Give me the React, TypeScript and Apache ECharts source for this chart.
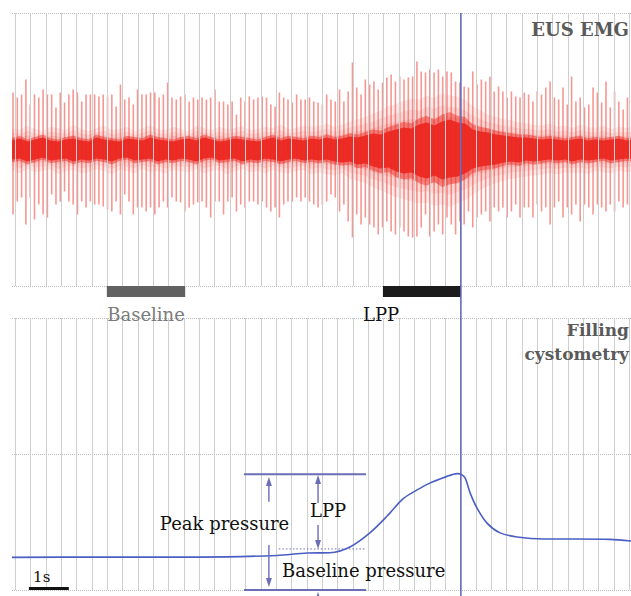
import React, { useEffect, useRef } from "react";
import * as echarts from "echarts";

// ---- time axis (seconds) ----
const TIME_MIN = -0.08;
const TIME_MAX = 16.04;
const GRID_STEP = 0.4;
const GRID_COUNT = 41;

// ---- EUS EMG: spike train (sampled every EMG_DT s), tops / bottoms in µV ----
const EMG_T0 = -0.054;
const EMG_DT = 0.1119;
const emgTops = [
  57, 52, 55, 70, 45, 55, 52, 60, 55, 55, 42, 57, 47, 55, 60, 57, 48, 55, 55, 55, 53, 55, 53, 55,
  43, 65, 50, 52, 45, 60, 55, 55, 57, 57, 52, 55, 67, 52, 50, 53, 55, 48, 52, 50, 52,
  50, 52, 60, 48, 48, 45, 48, 35, 52, 48, 53, 50, 52, 53, 52, 45, 43, 57, 52, 50, 47, 55, 50, 50, 52,
  48, 47, 45, 55, 50, 48, 60, 48, 58, 87, 62, 55, 70, 65, 68, 60, 67, 72, 75, 68, 73, 70, 72, 73, 88,
  78, 77, 80, 77, 80, 73, 78, 77, 68, 67, 63, 62, 78, 65, 70, 68, 73, 58, 63, 58, 52, 58, 53, 52, 57,
  55, 48, 58, 55, 62, 68, 52, 50, 62, 45, 73, 48, 52, 42, 45, 62, 57, 47, 68, 42, 58, 48, 40, 52,
];
const emgBottoms = [
  -65, -52, -48, -75, -48, -70, -55, -65, -68, -45, -55, -52, -42, -52, -55, -65, -52, -58, -52, -55, -55, -57, -60, -62,
  -52, -65, -45, -52, -65, -58, -58, -62, -58, -65, -58, -52, -58, -48, -52, -53, -62, -58, -55, -53, -52,
  -58, -68, -52, -52, -65, -52, -48, -62, -55, -58, -52, -52, -55, -52, -58, -62, -58, -68, -55, -52, -52, -48, -52, -48, -52,
  -55, -58, -55, -52, -45, -48, -62, -55, -72, -88, -65, -75, -68, -75, -78, -85, -78, -72, -82, -85, -78, -82, -87, -88, -87,
  -78, -65, -87, -82, -75, -85, -68, -75, -85, -72, -75, -62, -78, -68, -65, -62, -72, -58, -62, -58, -68, -62, -55, -68, -58,
  -58, -68, -55, -62, -58, -75, -58, -52, -68, -58, -65, -55, -72, -55, -58, -65, -55, -58, -62, -55, -62, -52, -58, -55,
];

// ---- EUS EMG: envelopes of the dense core and of the haze (µV above / below 0, every 0.2 s) ----
const ENV_T0 = -0.08;
const ENV_DT = 0.2;
const coreUpper = [
  9, 11, 8, 10, 12, 9, 8, 10, 11, 9, 8, 12, 10, 9, 8, 11, 10, 9, 12, 10,
  9, 8, 10, 11, 9, 12, 10, 8, 9, 11, 10, 9, 8, 10, 12, 9, 11, 10, 9, 11,
  10, 12, 10, 11, 13, 12, 14, 16, 15, 18, 20, 22, 21, 25, 27, 24, 28, 30, 27, 26,
  20, 18, 17, 15, 14, 13, 12, 12, 11, 10, 11, 10, 9, 10, 11, 9, 10, 9, 10, 11, 9, 10,
];
const coreLower = [
  10, 9, 12, 10, 8, 11, 10, 9, 12, 10, 11, 9, 10, 12, 9, 8, 11, 10, 9, 12,
  10, 11, 9, 10, 12, 9, 8, 11, 10, 9, 12, 10, 11, 9, 10, 12, 10, 9, 11, 10,
  11, 10, 12, 13, 12, 15, 14, 17, 19, 18, 22, 24, 23, 27, 29, 26, 30, 28, 27, 24,
  19, 17, 16, 15, 13, 12, 13, 11, 12, 11, 10, 11, 10, 12, 10, 11, 10, 9, 11, 10, 9, 10,
];
const hazeUpper = [
  20, 18, 22, 19, 17, 21, 20, 18, 23, 19, 17, 20, 22, 18, 19, 21, 17, 20, 22, 19,
  18, 21, 19, 17, 22, 20, 18, 21, 19, 20, 22, 18, 19, 21, 20, 23, 19, 20, 22, 21,
  22, 24, 21, 23, 26, 28, 30, 33, 36, 40, 42, 45, 47, 46, 50, 48, 52, 50, 49, 46,
  40, 36, 32, 30, 28, 27, 25, 24, 23, 22, 24, 21, 22, 20, 23, 21, 20, 22, 19, 21, 20, 21,
];
const hazeLower = [
  19, 22, 18, 21, 20, 18, 23, 20, 19, 22, 21, 18, 20, 23, 19, 20, 22, 18, 21, 20,
  22, 19, 20, 21, 18, 22, 20, 19, 23, 20, 18, 21, 20, 22, 19, 21, 22, 20, 19, 23,
  21, 23, 24, 22, 27, 29, 31, 35, 38, 41, 44, 46, 48, 50, 49, 52, 51, 53, 50, 47,
  42, 37, 34, 31, 29, 27, 26, 25, 24, 23, 22, 23, 21, 22, 21, 23, 20, 21, 22, 20, 21, 20,
];

// ---- Filling cystometry (pressure) ----
const pressureTimes = [
  -0.08, 2.21, 4.82, 6.82, 7.6, 8.2, 8.72, 9.24, 9.69, 10.1, 10.47, 10.8, 11.2, 11.51, 11.61, 11.72,
  11.85, 12.03, 12.29, 12.63, 13.07, 13.75, 14.63, 15.49, 16.04,
];
const pressureValues = [
  12.0, 12.1, 12.1, 12.7, 13.6, 13.7, 15.8, 21.0, 27.2, 33.5, 36.8, 39.3, 41.5, 42.8, 42.6, 41.2,
  35.7, 30.1, 24.6, 21.0, 19.5, 18.75, 18.75, 18.6, 18.0,
];

// ---- annotations (data units) ----
const MARKER_TIME = 11.61;
const baselineWindow = [2.39, 4.43];
const lppWindow = [9.58, 11.61];
const PEAK_PRESSURE = 42.6;
const BASELINE_PRESSURE = 15.1;
const bracketSpan = [5.96, 9.14];
const dottedSpan = [6.87, 9.14];
const PEAK_ARROW_T = 6.61;
const LPP_ARROW_T = 7.89;
const scaleBar = [0.36, 1.4];

const SERIF = "'DejaVu Serif', 'Liberation Serif', serif";
const ANN = "#6b6db6";

export default function App() {
  const ref = useRef<HTMLDivElement>(null);

  useEffect(() => {
    document.body.style.margin = "0";
    const chart = echarts.init(ref.current!, null, { renderer: "svg" });

    const gridLines: any[] = [];
    for (let k = 0; k < GRID_COUNT; k++) gridLines.push({ xAxis: +(k * GRID_STEP).toFixed(2) });

    const spikeData = emgTops.map((top, i) => [EMG_T0 + i * EMG_DT, top, emgBottoms[i]]);
    const envT = coreUpper.map((_, i) => ENV_T0 + i * ENV_DT);
    const pressure = pressureTimes.map((t, i) => [t, pressureValues[i]]);

    // band between an upper and a lower envelope, drawn through the axes; `k` widens/narrows it for soft edges
    const bandSeries = (upper: number[], lower: number[], color: string, z: number, k = 1) => ({
      type: "custom",
      xAxisIndex: 0,
      yAxisIndex: 0,
      z,
      silent: true,
      clip: true,
      data: envT.map((t, i) => [t, upper[i], -lower[i]]),
      encode: { x: 0, y: [1, 2] },
      renderItem: (params: any, api: any) => {
        if (params.dataIndex !== 0) return null;
        const up = envT.map((t, i) => api.coord([t, upper[i] * k]));
        const lo = envT.map((t, i) => api.coord([t, -lower[i] * k])).reverse();
        return { type: "polygon", shape: { points: up.concat(lo) }, style: { fill: color } };
      },
    });

    const gridLineStyle = { color: "#cfcfcf", width: 1, type: "solid" };
    const hSplit = { show: true, lineStyle: { color: "#bdbdbd", width: 1, type: "dotted" } };

    const option: any = {
      animation: false,
      grid: [
        { left: 12, top: 13, right: 0, height: 273 },
        { left: 12, top: 318, right: 0, height: 272 },
      ],
      xAxis: [0, 1].map((g) => ({
        type: "value",
        gridIndex: g,
        min: TIME_MIN,
        max: TIME_MAX,
        axisLine: { show: false },
        axisTick: { show: false },
        axisLabel: { show: false },
        splitLine: { show: false },
      })),
      yAxis: [
        {
          type: "value",
          gridIndex: 0,
          min: -136.5,
          max: 136.5,
          interval: 273,
          axisLine: { show: false },
          axisTick: { show: false },
          axisLabel: { show: false },
          splitLine: hSplit,
        },
        {
          type: "value",
          gridIndex: 1,
          min: 0,
          max: 100,
          interval: 50,
          axisLine: { show: false },
          axisTick: { show: false },
          axisLabel: { show: false },
          splitLine: hSplit,
        },
      ],
      series: [
        {
          type: "line",
          xAxisIndex: 0,
          yAxisIndex: 0,
          data: [],
          z: 1,
          markLine: { silent: true, symbol: ["none", "none"], label: { show: false }, lineStyle: gridLineStyle, data: gridLines },
        },
        {
          type: "line",
          xAxisIndex: 1,
          yAxisIndex: 1,
          data: [],
          z: 1,
          markLine: { silent: true, symbol: ["none", "none"], label: { show: false }, lineStyle: gridLineStyle, data: gridLines },
        },
        bandSeries(hazeUpper, hazeLower, "rgba(242,92,82,0.13)", 2, 1.08),
        bandSeries(hazeUpper, hazeLower, "rgba(242,92,82,0.14)", 2, 0.85),
        bandSeries(hazeUpper, hazeLower, "rgba(240,80,70,0.16)", 2, 0.65),
        {
          type: "custom",
          xAxisIndex: 0,
          yAxisIndex: 0,
          z: 3,
          silent: true,
          clip: true,
          data: spikeData,
          encode: { x: 0, y: [1, 2] },
          renderItem: (params: any, api: any) => {
            const a = api.coord([api.value(0), api.value(1)]);
            const b = api.coord([api.value(0), api.value(2)]);
            return {
              type: "line",
              shape: { x1: a[0], y1: a[1], x2: b[0], y2: b[1] },
              style: { stroke: "rgba(238,66,56,0.55)", lineWidth: 1.6 },
            };
          },
        },
        bandSeries(coreUpper, coreLower, "rgba(236,40,34,0.45)", 4, 1.25),
        bandSeries(coreUpper, coreLower, "rgba(236,38,32,0.92)", 4, 1),
        {
          type: "line",
          xAxisIndex: 1,
          yAxisIndex: 1,
          data: pressure,
          smooth: 0.3,
          showSymbol: false,
          lineStyle: { color: "#4a5ec4", width: 1.6 },
          z: 5,
        },
      ],
    };
    chart.setOption(option);

    const top = (t: number, v: number) => chart.convertToPixel({ gridIndex: 0 }, [t, v]) as number[];
    const bot = (t: number, p: number) => chart.convertToPixel({ gridIndex: 1 }, [t, p]) as number[];

    const g: any[] = [];
    const hline = (x1: number, x2: number, y: number, w: number, dash?: number[]) =>
      g.push({
        type: "line",
        shape: { x1, y1: y, x2, y2: y },
        style: { stroke: ANN, lineWidth: w, lineDash: dash },
        z: 20,
      });
    const vseg = (x: number, y1: number, y2: number) =>
      g.push({ type: "line", shape: { x1: x, y1, x2: x, y2 }, style: { stroke: ANN, lineWidth: 1.4 }, z: 20 });
    const head = (x: number, y: number, dir: number) =>
      g.push({
        type: "polygon",
        shape: { points: [[x, y], [x - 3, y - dir * 9], [x + 3, y - dir * 9]] },
        style: { fill: ANN },
        z: 20,
      });
    const text = (s: string, x: number, y: number, opts: any = {}) =>
      g.push({
        type: "text",
        x,
        y,
        z: 25,
        style: {
          text: s,
          fontFamily: SERIF,
          fontSize: opts.size || 18,
          fontWeight: opts.weight || "normal",
          fill: opts.color || "#111",
          align: opts.align || "left",
          verticalAlign: "middle",
        },
      });

    // marker at LPP time
    const mx = top(MARKER_TIME, 0)[0];
    g.push({
      type: "line",
      shape: { x1: mx, y1: top(MARKER_TIME, 136.5)[1], x2: mx, y2: 596 },
      style: { stroke: "#5b62b4", lineWidth: 1.5 },
      z: 30,
    });

    // window bars under EMG
    const yBar = top(0, -136.5)[1];
    const bx1 = top(baselineWindow[0], 0)[0];
    const bx2 = top(baselineWindow[1], 0)[0];
    g.push({ type: "rect", shape: { x: bx1, y: yBar, width: bx2 - bx1, height: 11 }, style: { fill: "#616161" }, z: 20 });
    const lx1 = top(lppWindow[0], 0)[0];
    const lx2 = top(lppWindow[1], 0)[0];
    g.push({ type: "rect", shape: { x: lx1, y: yBar, width: lx2 - lx1, height: 11 }, style: { fill: "#1b1b1b" }, z: 20 });
    text("Baseline", (bx1 + bx2) / 2, yBar + 28.5, { color: "#7a7a7a", align: "center" });
    text("LPP", lx1 - 20, yBar + 28.5);

    // pressure brackets
    const [sx1] = bot(bracketSpan[0], 0);
    const [sx2] = bot(bracketSpan[1], 0);
    const yPeak = bot(0, PEAK_PRESSURE)[1];
    const yZero = bot(0, 0)[1];
    const yBase = bot(0, BASELINE_PRESSURE)[1];
    hline(sx1, sx2, yPeak, 2);
    hline(sx1, sx2, yZero, 2);
    hline(bot(dottedSpan[0], 0)[0], bot(dottedSpan[1], 0)[0], yBase, 1, [1.5, 2]);

    const ax = bot(PEAK_ARROW_T, 0)[0];
    head(ax, bot(0, 41.5)[1], -1);
    vseg(ax, bot(0, 41.5)[1] + 8, bot(0, 32.4)[1]);
    vseg(ax, bot(0, 16.5)[1], bot(0, 1.1)[1] - 8);
    head(ax, bot(0, 1.1)[1], 1);

    const lx = bot(LPP_ARROW_T, 0)[0];
    head(lx, bot(0, 42.3)[1], -1);
    vseg(lx, bot(0, 42.3)[1] + 8, bot(0, 32.0)[1]);
    vseg(lx, bot(0, 23.9)[1], yBase - 8);
    head(lx, yBase, 1);
    head(lx, bot(0, -0.7)[1], -1);
    vseg(lx, bot(0, -0.7)[1] + 8, 600);

    const p1 = bot(3.77, 24.6);
    text("Peak pressure", p1[0], p1[1]);
    const p2 = bot(7.68, 29.4);
    text("LPP", p2[0], p2[1]);
    const p3 = bot(6.95, 7.0);
    text("Baseline pressure", p3[0], p3[1]);

    // scale bar
    const s1 = bot(scaleBar[0], 0);
    const s2 = bot(scaleBar[1], 0);
    g.push({ type: "rect", shape: { x: s1[0], y: s1[1] - 3, width: s2[0] - s1[0], height: 3 }, style: { fill: "#111" }, z: 20 });
    const s3 = bot(0.47, 4.8);
    text("1s", s3[0], s3[1], { size: 15 });

    // panel titles
    text("EUS EMG", 629, 29.5, { weight: "bold", color: "#5a5a5a", align: "right" });
    text("Filling", 629, 330, { weight: "bold", color: "#5a5a5a", align: "right", size: 17 });
    text("cystometry", 629, 354, { weight: "bold", color: "#5a5a5a", align: "right", size: 17 });

    chart.setOption({ graphic: g });

    return () => chart.dispose();
  }, []);

  return (
    <div
      ref={ref}
      style={{ position: "fixed", left: 0, top: 0, width: 631, height: 596, background: "#fff" }}
    />
  );
}
